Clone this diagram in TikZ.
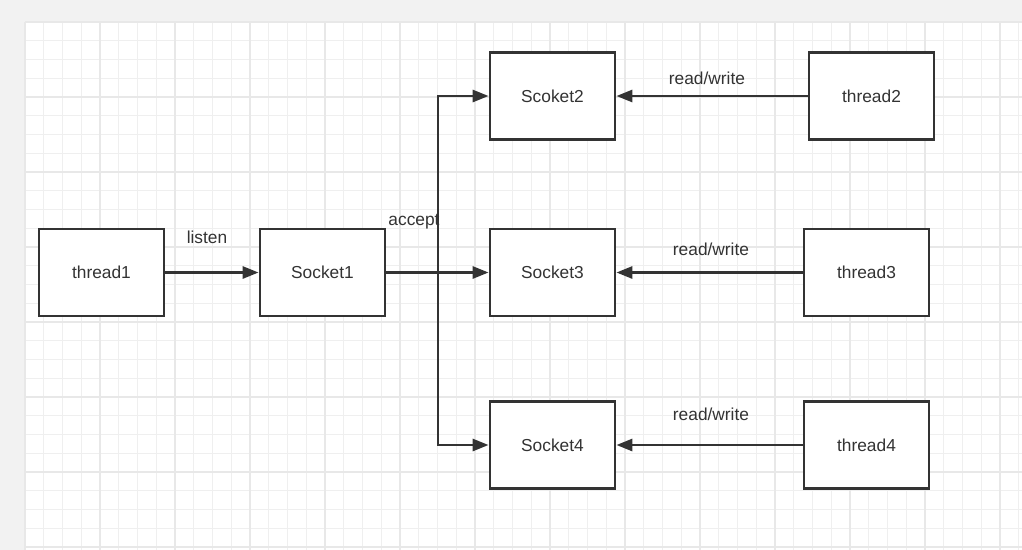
\documentclass[tikz,border=0pt]{standalone}
\usepackage{fontspec}
\setmainfont{Liberation Sans}
\usepackage{tikz}
\usetikzlibrary{arrows.meta}

\definecolor{ink}{HTML}{333333}
\definecolor{pagegray}{HTML}{F2F2F2}
\definecolor{gridminor}{HTML}{EFEFEF}
\definecolor{gridmajor}{HTML}{E8E8E8}

\tikzset{
  blockbox/.style={draw=ink, line width=2.1pt, fill=white, minimum width=93.75pt,
    minimum height=65.25pt, inner sep=0pt, text=ink, font=\fontsize{13}{15}\selectfont},
  flowline/.style={draw=ink, line width=2.1pt, -{Triangle[length=12pt,width=9pt]}},
  edgelabel/.style={inner sep=0.75pt, text=ink, font=\fontsize{13}{15}\selectfont}
}

\begin{document}
\begin{tikzpicture}[x=0.75pt,y=0.75pt,yscale=-1,xscale=1]

            \useasboundingbox (0,0) rectangle (1022,550);
            \fill[pagegray] (0,0) rectangle (1022,550);
            \fill[white] (25,22) rectangle (1022,550);

            % grid
            \foreach \i in {0,...,53} {
                \draw[gridminor, line width=1pt] ({25+18.75*\i},22) -- ({25+18.75*\i},550);
            }
            \foreach \j in {0,...,28} {
                \draw[gridminor, line width=1pt] (25,{22+18.75*\j}) -- (1022,{22+18.75*\j});
            }
            \foreach \i in {0,...,13} {
                \draw[gridmajor, line width=1pt] ({25+75*\i},22) -- ({25+75*\i},550);
            }
            \foreach \j in {0,...,7} {
                \draw[gridmajor, line width=1pt] (25,{22+75*\j}) -- (1022,{22+75*\j});
            }

            % Boxes
            \node [blockbox] (thread1) at (101.5,272.5) {thread1};
            \node [blockbox] (socket1) at (322.5,272.5) {Socket1};
            \node [blockbox] (socket2) at (552.5,96) {Scoket2};
            \node [blockbox] (socket3) at (552.5,272.5) {Socket3};
            \node [blockbox] (socket4) at (552.5,445) {Socket4};
            \node [blockbox] (thread2) at (871.5,96) {thread2};
            \node [blockbox] (thread3) at (866.5,272.5) {thread3};
            \node [blockbox] (thread4) at (866.5,445) {thread4};

            \coordinate (split) at (438,272.5);

            % Connectors
            \draw [flowline] (thread1) -- (socket1);
            \draw [flowline] (socket1) -- (socket3);
            \draw [flowline] (split) |- (socket2);
            \draw [flowline] (split) |- (socket4);
            \draw [flowline] (thread2) -- (socket2);
            \draw [flowline] (thread3) -- (socket3);
            \draw [flowline] (thread4) -- (socket4);

            % Text Node
            \node [edgelabel] (listenlbl) at (207,237) {listen};
            % Text Node
            \node [edgelabel] (acceptlbl) at (414,222) {accept};
            % Text Node
            \node [edgelabel] (rw2lbl) at (707,78) {read/write};
            % Text Node
            \node [edgelabel] (rw3lbl) at (711,249) {read/write};
            % Text Node
            \node [edgelabel] (rw4lbl) at (711,414) {read/write};

\end{tikzpicture}
\end{document}
